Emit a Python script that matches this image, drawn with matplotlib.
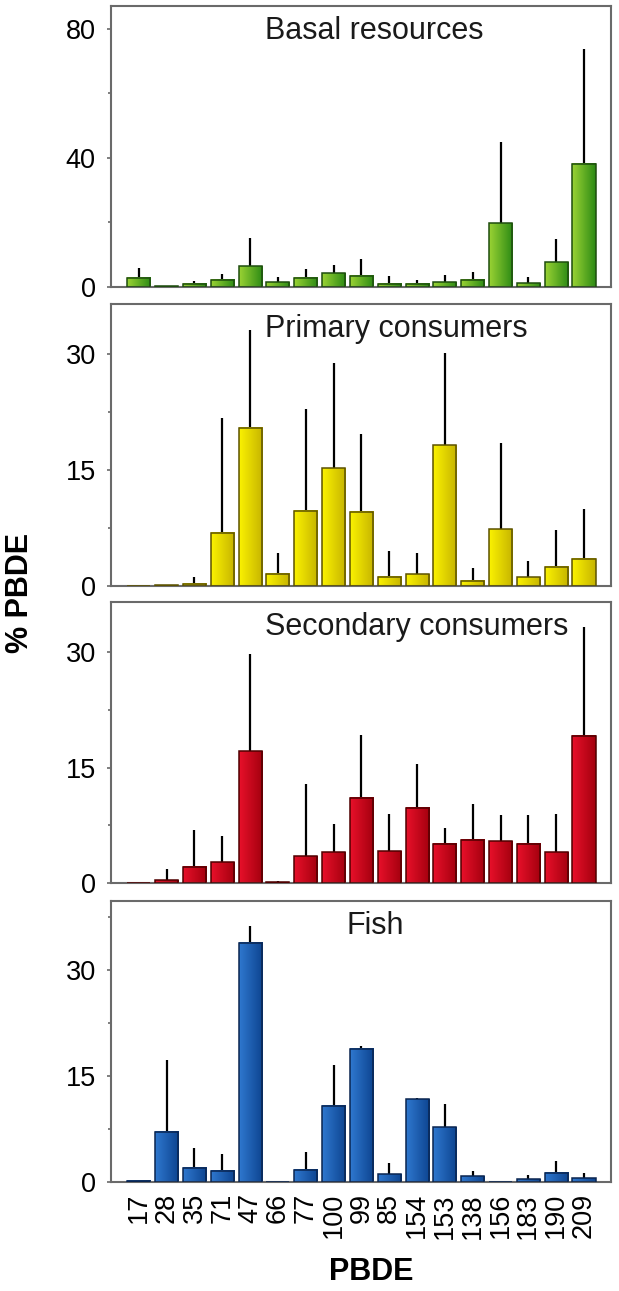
import matplotlib
matplotlib.use("Agg")
import matplotlib.pyplot as plt
import numpy as np
from matplotlib.colors import LinearSegmentedColormap

plt.rcParams["font.family"] = ["Liberation Sans", "DejaVu Sans"]

congeners = ["17", "28", "35", "71", "47", "66", "77", "100", "99", "85",
             "154", "153", "138", "156", "183", "190", "209"]

groups = ["Basal resources", "Primary consumers", "Secondary consumers", "Fish"]

basal_mean = [2.8, 0.3, 1.0, 2.3, 6.4, 1.5, 2.8, 4.3, 3.5, 1.0, 1.0, 1.5, 2.3, 19.8, 1.2, 7.6, 38.2]
basal_sd = [3.1, 0.0, 0.8, 1.8, 8.8, 1.5, 2.8, 2.6, 5.3, 2.5, 1.3, 2.2, 2.2, 25.1, 1.9, 7.3, 35.6]

primary_mean = [0.0, 0.1, 0.3, 6.9, 20.4, 1.6, 9.7, 15.2, 9.6, 1.2, 1.5, 18.2, 0.65, 7.3, 1.1, 2.5, 3.5]
primary_sd = [0.0, 0.0, 0.9, 14.8, 12.7, 2.7, 13.1, 13.6, 10.0, 3.3, 2.7, 11.9, 1.65, 11.2, 2.1, 4.7, 6.4]

secondary_mean = [0.0, 0.35, 2.1, 2.7, 17.1, 0.1, 3.5, 4.0, 11.1, 4.1, 9.8, 5.1, 5.6, 5.4, 5.1, 4.0, 19.1]
secondary_sd = [0.0, 1.45, 4.8, 3.4, 12.6, 0.2, 9.4, 3.6, 8.1, 4.9, 5.6, 2.0, 4.7, 3.4, 3.7, 5.0, 14.1]

fish_mean = [0.15, 7.1, 2.0, 1.6, 33.8, 0.0, 1.7, 10.8, 18.8, 1.1, 11.7, 7.7, 0.8, 0.0, 0.4, 1.3, 0.55]
fish_sd = [0.15, 10.1, 2.8, 2.4, 2.3, 0.0, 2.6, 5.7, 0.4, 1.6, 0.2, 3.3, 0.8, 0.0, 0.6, 1.6, 0.75]

means = [basal_mean, primary_mean, secondary_mean, fish_mean]
sds = [basal_sd, primary_sd, secondary_sd, fish_sd]

# styling per panel
grad_colors = [("#9ad334", "#2c8a14"), ("#fbf200", "#c6b400"),
               ("#e8102a", "#a3000e"), ("#2f78cf", "#0d4490")]
edge_colors = ["#1e4d0e", "#5c5200", "#4f0000", "#0a2550"]
ylims = [87, 36.4, 36.5, 39.7]
yticks = [[0, 40, 80], [0, 15, 30], [0, 15, 30], [0, 15, 30]]
yminor = [[20, 60], [7.5, 22.5], [7.5, 22.5], [7.5, 22.5, 37.5]]
title_pos = [(0.308, "left"), (0.308, "left"), (0.308, "left"), (0.528, "center")]

W, H = 619, 1291
fig = plt.figure(figsize=(W / 100, H / 100), dpi=100)

# axes boxes in pixels: (top, bottom)
boxes = [(6, 287), (304, 586), (602, 883), (901, 1182)]
left_px, right_px = 111, 611

x = np.arange(len(congeners))
grad = np.linspace(0, 1, 64).reshape(1, -1)
spine_col = "#6a6a6a"

for i, (top, bot) in enumerate(boxes):
    ax = fig.add_axes([left_px / W, 1 - bot / H, (right_px - left_px) / W, (bot - top) / H])
    cmap = LinearSegmentedColormap.from_list("g", grad_colors[i])
    m = np.array(means[i])
    s = np.array(sds[i])
    bars = ax.bar(x, m, width=0.83, facecolor="none", edgecolor=edge_colors[i],
                  linewidth=1.1, zorder=3)
    for rect in bars:
        h = rect.get_height()
        if h <= 0:
            continue
        x0 = rect.get_x()
        ax.imshow(grad, cmap=cmap, extent=[x0, x0 + rect.get_width(), 0, h],
                  aspect="auto", interpolation="bicubic", zorder=2)
    ax.vlines(x, m, m + s, color="black", linewidth=1.6, zorder=1)

    ax.set_xlim(-1.0, 16.97)
    ax.set_ylim(0, ylims[i])
    ax.set_aspect("auto")
    ax.set_yticks(yticks[i])
    ax.set_yticks(yminor[i], minor=True)
    ax.tick_params(axis="y", which="major", direction="out", length=3, width=1.2,
                   color=spine_col, labelsize=19.5, pad=8)
    ax.tick_params(axis="y", which="minor", direction="out", length=2, width=1.2, color=spine_col)
    for sp in ax.spines.values():
        sp.set_color(spine_col)
        sp.set_linewidth(1.5)

    if i == len(boxes) - 1:
        ax.set_xticks(x)
        ax.set_xticklabels(congeners, rotation=90, fontsize=19.5, va="top", ha="center")
        ax.tick_params(axis="x", length=0, pad=8)
    else:
        ax.set_xticks([])

    tx, ha = title_pos[i]
    ax.text(tx, 0.91, groups[i], transform=ax.transAxes, ha=ha, va="center",
            fontsize=22, color="#1a1a1a", zorder=5)

fig.text(20 / W, 1 - 593 / H, "% PBDE", rotation=90, ha="center", va="center",
         fontsize=22, fontweight="bold")
fig.text(371 / W, 1 - 1272 / H, "PBDE", ha="center", va="center",
         fontsize=22, fontweight="bold")

fig.savefig("out.png", dpi=100)
